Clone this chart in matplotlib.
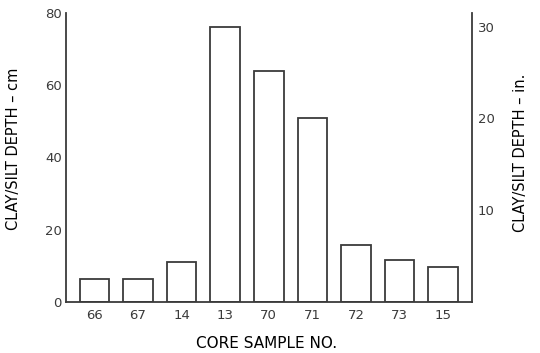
import matplotlib
matplotlib.use('Agg')
import matplotlib.pyplot as plt

# core samples and clay/silt depth (cm)
samples = ['66', '67', '14', '13', '70', '71', '72', '73', '15']
depth_cm = [6.3, 6.3, 11.2, 76.0, 64.0, 51.0, 15.8, 11.6, 9.8]
left_ticks = [0, 20, 40, 60, 80]
right_ticks = [10, 20, 30]

ink = '#3a3a3a'
plt.rcParams['font.family'] = 'DejaVu Sans'
plt.rcParams['text.color'] = ink

fig = plt.figure(figsize=(5.4, 3.53), dpi=100)
ax = fig.add_axes([66/540, 1 - 302/353, 406/540, 289/353])

x = range(len(samples))
ax.bar(x, depth_cm, width=0.68, facecolor='white', edgecolor=ink, linewidth=1.3)

ax.set_xlim(-0.65, 8.66)
ax.set_ylim(0, 80)
ax.set_xticks(list(x))
ax.set_xticklabels(samples)
ax.set_yticks(left_ticks)
ax.tick_params(length=0, labelsize=9.5, colors=ink)
ax.tick_params(axis='x', pad=5)
ax.tick_params(axis='y', pad=3)
for s in ['top', 'right']:
    ax.spines[s].set_visible(False)
for s in ['left', 'bottom']:
    ax.spines[s].set_color(ink)
    ax.spines[s].set_linewidth(1.3)

# right axis in inches
ax2 = ax.twinx()
ax2.set_ylim(0, 80 / 2.54)
ax2.set_yticks(right_ticks)
ax2.tick_params(length=0, labelsize=9.5, colors=ink, pad=4)
for s in ['top', 'left', 'bottom']:
    ax2.spines[s].set_visible(False)
ax2.spines['right'].set_color(ink)
ax2.spines['right'].set_linewidth(1.3)

ax.set_xlabel('CORE SAMPLE NO.', fontsize=11)
ax.xaxis.set_label_coords(0.495, -0.118)
ax.set_ylabel('CLAY/SILT DEPTH \u2013 cm', fontsize=10.5)
ax.yaxis.set_label_coords(-0.111, 0.529)
ax2.set_ylabel('CLAY/SILT DEPTH \u2013 in.', fontsize=10.5)
ax2.yaxis.set_label_coords(1.101, 0.516)

plt.savefig('out.png', dpi=100)
